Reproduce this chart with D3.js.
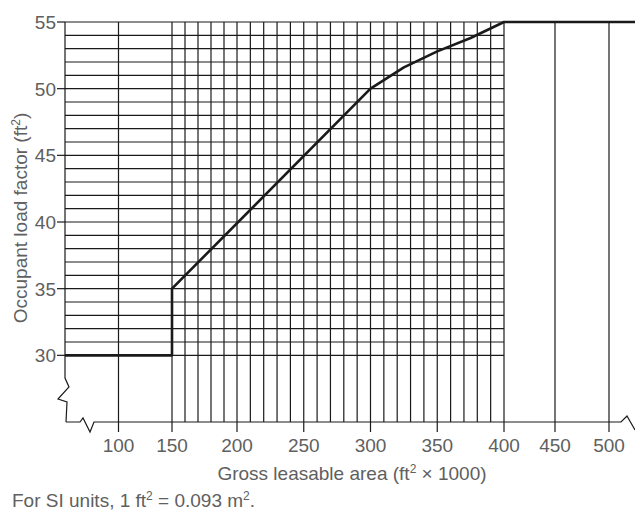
<!DOCTYPE html>
<html>
<head>
<meta charset="utf-8">
<script src="https://cdn.jsdelivr.net/npm/d3@7"></script>
<style>
  body { margin: 0; background: #fff; }
  text { font-family: "Liberation Sans", Arial, sans-serif; fill: #606060; }
</style>
</head>
<body>
<div id="chart"></div>
<script>
// Occupant load factor vs gross leasable area
const curveArea = [50, 150, 150, 300, 325, 350, 375, 400, 525];
const curveFactor = [30, 30, 35, 50, 51.6, 52.8, 53.8, 55, 55];
const xTicks = [100, 150, 200, 250, 300, 350, 400, 450, 500];
const yTicks = [30, 35, 40, 45, 50, 55];
const xGrid = [100].concat(d3.range(150, 401, 10), [450, 500]);
const yGrid = d3.range(30, 56, 1);

const width = 635, height = 513;

const svg = d3.select("#chart").append("svg")
    .attr("width", width)
    .attr("height", height);

// broken axis: piecewise linear x scale
const x = d3.scaleLinear()
    .domain([50, 150, 200, 400, 450, 500, 525])
    .range([65, 172, 237, 504, 555, 609, 635]);

const y = d3.scaleLinear()
    .domain([25, 55])
    .range([422, 22]);

const ink = "#1a1a1a";
const bottom = y(25);

// horizontal grid lines
svg.append("g").selectAll("line")
    .data(yGrid)
    .join("line")
    .attr("x1", x(50))
    .attr("x2", d => d === 55 ? x(525) : x(400))
    .attr("y1", d => y(d))
    .attr("y2", d => y(d))
    .attr("stroke", ink)
    .attr("stroke-width", 1.2);

// vertical grid lines (extended below as ticks)
svg.append("g").selectAll("line")
    .data(xGrid)
    .join("line")
    .attr("x1", d => x(d))
    .attr("x2", d => x(d))
    .attr("y1", y(55))
    .attr("y2", d => xTicks.includes(d) ? bottom + 10 : bottom)
    .attr("stroke", ink)
    .attr("stroke-width", 1.2);

// left axis with break symbol
const x0 = x(50);
svg.append("path")
    .attr("d", `M${x0},${y(55)} L${x0},378 L${x0 + 4},387 L${x0 - 7},399 L${x0 + 2},402 L${x0 + 1},${bottom}`)
    .attr("fill", "none")
    .attr("stroke", ink)
    .attr("stroke-width", 1.2);

// bottom axis with break symbols
svg.append("path")
    .attr("d", `M${x0 + 1},${bottom} L80,${bottom} L83,${bottom - 4} L90,${bottom + 10} L94,${bottom} L621,${bottom} L627,${bottom - 6} L635,${bottom + 8}`)
    .attr("fill", "none")
    .attr("stroke", ink)
    .attr("stroke-width", 1.2);

// y ticks and labels
svg.append("g").selectAll("line")
    .data(yTicks)
    .join("line")
    .attr("x1", x0 - 8)
    .attr("x2", x0)
    .attr("y1", d => y(d))
    .attr("y2", d => y(d))
    .attr("stroke", ink)
    .attr("stroke-width", 1.2);

svg.append("g").selectAll("text")
    .data(yTicks)
    .join("text")
    .attr("x", x0 - 9)
    .attr("y", d => y(d) + 7)
    .attr("text-anchor", "end")
    .attr("font-size", 19)
    .text(d => d);

// x tick labels
svg.append("g").selectAll("text")
    .data(xTicks)
    .join("text")
    .attr("x", d => x(d))
    .attr("y", bottom + 30)
    .attr("text-anchor", "middle")
    .attr("font-size", 19)
    .text(d => d);

// the curve
svg.append("path")
    .datum(d3.zip(curveArea, curveFactor))
    .attr("fill", "none")
    .attr("stroke", ink)
    .attr("stroke-width", 2.6)
    .attr("stroke-linejoin", "round")
    .attr("d", d3.line()
        .x(d => x(d[0]))
        .y(d => y(d[1])));

// axis titles
const yTitle = svg.append("text")
    .attr("transform", "translate(27,218) rotate(-90)")
    .attr("text-anchor", "middle")
    .attr("font-size", 19);
yTitle.append("tspan").text("Occupant load factor (ft");
yTitle.append("tspan").attr("font-size", 12).attr("dy", -7).text("2");
yTitle.append("tspan").attr("dy", 7).text(")");

const xTitle = svg.append("text")
    .attr("x", 352)
    .attr("y", 480)
    .attr("text-anchor", "middle")
    .attr("font-size", 19);
xTitle.append("tspan").text("Gross leasable area (ft");
xTitle.append("tspan").attr("font-size", 12).attr("dy", -7).text("2");
xTitle.append("tspan").attr("dy", 7).text(" \u00d7 1000)");

const note = svg.append("text")
    .attr("x", 12)
    .attr("y", 507)
    .attr("font-size", 19);
note.append("tspan").text("For SI units, 1 ft");
note.append("tspan").attr("font-size", 12).attr("dy", -7).text("2");
note.append("tspan").attr("dy", 7).text(" = 0.093 m");
note.append("tspan").attr("font-size", 12).attr("dy", -7).text("2");
note.append("tspan").attr("dy", 7).text(".");
</script>
</body>
</html>
